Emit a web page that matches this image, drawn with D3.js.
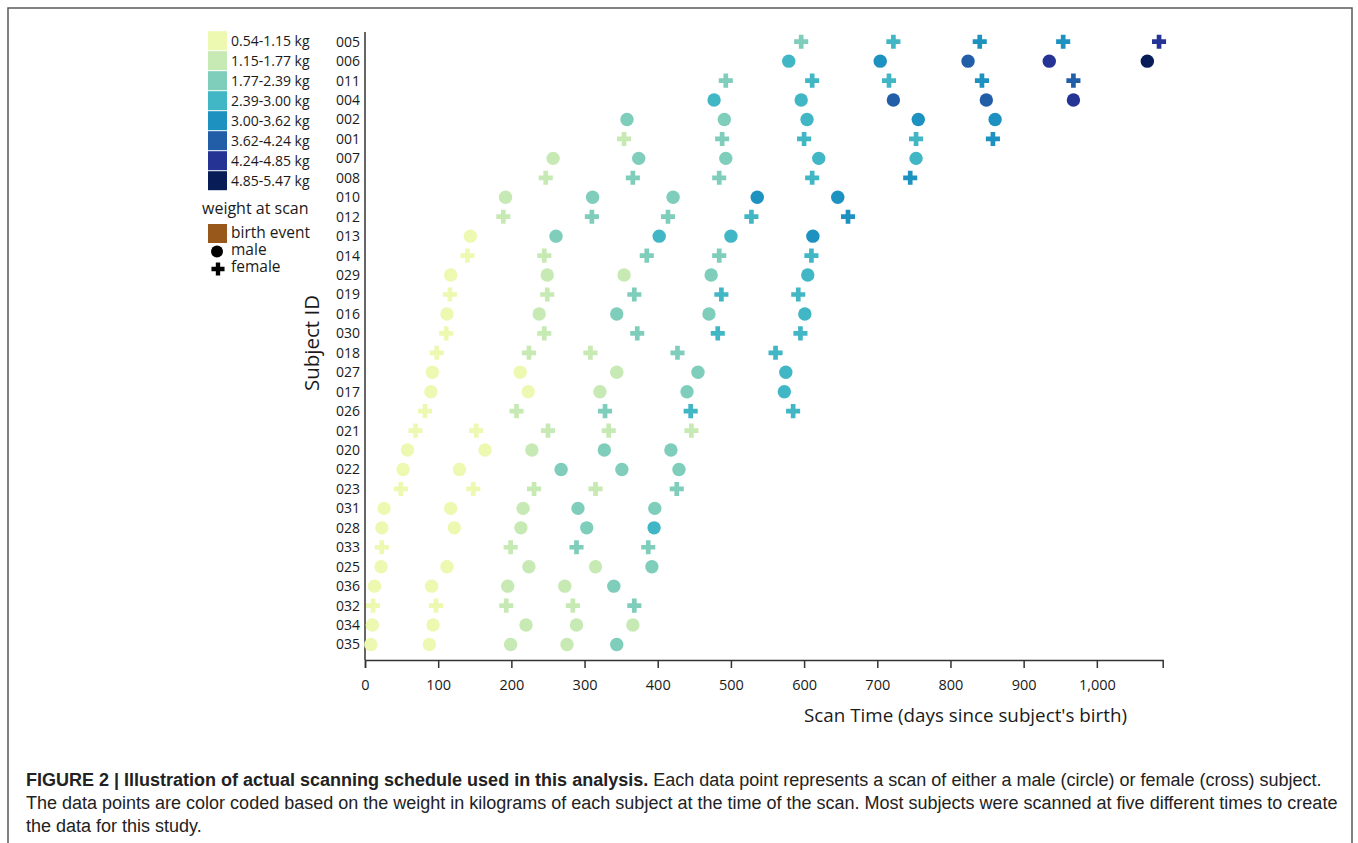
<!DOCTYPE html>
<html>
<head>
<meta charset="utf-8">
<script src="https://cdn.jsdelivr.net/npm/d3@7"></script>
<style>
  body { margin: 0; background: #fff; }
  svg { display: block; }
  .chart text { font-family: "Open Sans", "DejaVu Sans", sans-serif; fill: #1a1a1a; }
  .caption text { font-family: "Liberation Sans", Arial, sans-serif; fill: #222; }
</style>
</head>
<body>
<svg id="fig" width="1358" height="843"></svg>
<script>
// Scan schedule: one row per subject, days since birth at each scan,
// coloured by weight class at scan time.

const subjects = ["005", "006", "011", "004", "002", "001", "007", "008", "010", "012",
  "013", "014", "029", "019", "016", "030", "018", "027", "017", "026",
  "021", "020", "022", "023", "031", "028", "033", "025", "036", "032", "034", "035"];

const subjectSex = ["F", "M", "F", "M", "M", "F", "M", "F", "M", "F",
  "M", "F", "M", "F", "M", "F", "F", "M", "M", "F",
  "F", "M", "M", "F", "M", "M", "F", "M", "M", "F", "M", "M"];

const scanDays = [
  [596, 722, 840, 954, 1085],
  [579, 704, 824, 935, 1069],
  [493, 611, 716, 843, 968],
  [477, 596, 722, 849, 968],
  [358, 491, 604, 756, 861],
  [354, 488, 600, 753, 858],
  [257, 374, 493, 620, 753],
  [247, 366, 484, 611, 745],
  [192, 311, 421, 536, 646],
  [189, 310, 414, 528, 660],
  [144, 261, 402, 500, 612],
  [140, 245, 385, 484, 610],
  [117, 249, 354, 473, 605],
  [116, 249, 368, 487, 592],
  [112, 238, 344, 470, 601],
  [111, 245, 372, 482, 595],
  [98, 224, 308, 427, 561],
  [92, 212, 344, 455, 575],
  [90, 223, 321, 440, 573],
  [82, 207, 328, 445, 585],
  [69, 152, 250, 333, 446],
  [58, 164, 228, 327, 418],
  [52, 129, 268, 351, 429],
  [49, 148, 231, 315, 426],
  [26, 117, 216, 291, 396],
  [23, 122, 213, 303, 395],
  [23, 199, 289, 387],
  [22, 112, 224, 315, 392],
  [13, 91, 195, 273, 340],
  [11, 97, 193, 284, 368],
  [10, 93, 220, 289, 366],
  [8, 88, 199, 276, 344]
];

// index into weightLabels
const weightClass = [
  [2, 3, 4, 4, 6],
  [3, 4, 5, 6, 7],
  [2, 3, 3, 4, 5],
  [3, 3, 5, 5, 6],
  [2, 2, 3, 4, 4],
  [1, 2, 3, 3, 4],
  [1, 2, 2, 3, 3],
  [1, 2, 2, 3, 4],
  [1, 2, 2, 4, 4],
  [1, 2, 2, 3, 4],
  [0, 2, 3, 3, 4],
  [0, 1, 2, 2, 3],
  [0, 1, 1, 2, 3],
  [0, 1, 2, 3, 3],
  [0, 1, 2, 2, 3],
  [0, 1, 2, 3, 3],
  [0, 1, 1, 2, 3],
  [0, 0, 1, 2, 3],
  [0, 0, 1, 2, 3],
  [0, 1, 2, 3, 3],
  [0, 0, 1, 1, 1],
  [0, 0, 1, 2, 2],
  [0, 0, 2, 2, 2],
  [0, 0, 1, 1, 2],
  [0, 0, 1, 2, 2],
  [0, 0, 1, 2, 3],
  [0, 1, 2, 2],
  [0, 0, 1, 1, 2],
  [0, 0, 1, 1, 2],
  [0, 0, 1, 1, 2],
  [0, 0, 1, 1, 1],
  [0, 0, 1, 1, 2]
];

const weightLabels = ["0.54-1.15 kg", "1.15-1.77 kg", "1.77-2.39 kg", "2.39-3.00 kg",
  "3.00-3.62 kg", "3.62-4.24 kg", "4.24-4.85 kg", "4.85-5.47 kg"];

const xTicks = [0, 100, 200, 300, 400, 500, 600, 700, 800, 900, 1000];

const captionBold = "FIGURE 2 | Illustration of actual scanning schedule used in this analysis.";
const captionLines = [
  " Each data point represents a scan of either a male (circle) or female (cross) subject.",
  "The data points are color coded based on the weight in kilograms of each subject at the time of the scan. Most subjects were scanned at five different times to create",
  "the data for this study."
];

const svg = d3.select("#fig");

// frame round the figure
svg.append("path")
  .attr("d", "M8,843V8H1352V843")
  .attr("fill", "none")
  .attr("stroke", "#5a5a5a")
  .attr("stroke-width", 1.5);

const chart = svg.append("g").attr("class", "chart");

const x = d3.scaleLinear().domain([0, 1090]).range([365, 1162.7]);
const y = d3.scalePoint().domain(subjects).range([41.7, 644.5]);
const color = d3.scaleOrdinal().domain(d3.range(8)).range(d3.schemeYlGnBu[9].slice(1));
const axisY = 660;
const axisTop = 32;

const points = subjects.flatMap((id, i) => scanDays[i].map((day, j) => ({
  id, sex: subjectSex[i], day, cls: weightClass[i][j],
})));

// x axis
const gx = chart.append("g")
  .attr("transform", `translate(0,${axisY})`)
  .call(d3.axisBottom(x).tickValues(xTicks).tickFormat(d3.format(",")).tickSize(8).tickPadding(12));
gx.selectAll("text").style("font-size", "14.5px");

// y axis
const gy = chart.append("g")
  .attr("transform", "translate(365,0)")
  .call(d3.axisLeft(y).tickSize(0).tickPadding(5));
gy.select(".domain").attr("d", `M0,${axisTop}V${axisY}`);
gy.selectAll("text").style("font-size", "14px");

chart.selectAll(".domain, .tick line").attr("stroke", "#333").attr("stroke-width", 1.5);

chart.append("text")
  .attr("x", 965.5).attr("y", 722)
  .attr("text-anchor", "middle")
  .style("font-size", "18.8px")
  .text("Scan Time (days since subject's birth)");

chart.append("text")
  .attr("transform", "translate(319,343) rotate(-90)")
  .attr("text-anchor", "middle")
  .style("font-size", "20.5px")
  .text("Subject ID");

// marks
const cross = d3.symbol().type(d3.symbolCross).size(110);
const marks = chart.append("g");
marks.selectAll("circle")
  .data(points.filter((p) => p.sex === "M"))
  .join("circle")
  .attr("cx", (d) => x(d.day))
  .attr("cy", (d) => y(d.id))
  .attr("r", 6.7)
  .attr("fill", (d) => color(d.cls));
marks.selectAll("path")
  .data(points.filter((p) => p.sex === "F"))
  .join("path")
  .attr("transform", (d) => `translate(${x(d.day)},${y(d.id)})`)
  .attr("d", cross)
  .attr("fill", (d) => color(d.cls));

// legend
const legend = chart.append("g");
weightLabels.forEach((label, i) => {
  const cy = 40.7 + i * 20;
  legend.append("rect")
    .attr("x", 208).attr("y", cy - 9.5).attr("width", 19).attr("height", 19)
    .attr("fill", color(i));
  legend.append("text")
    .attr("x", 231).attr("y", cy).attr("dy", "0.35em")
    .style("font-size", "14px")
    .text(label);
});
legend.append("text")
  .attr("x", 202).attr("y", 208).attr("dy", "0.35em")
  .style("font-size", "16px")
  .text("weight at scan");
legend.append("rect")
  .attr("x", 208).attr("y", 224).attr("width", 19).attr("height", 19)
  .attr("fill", "#98581c");
legend.append("text")
  .attr("x", 231).attr("y", 233).attr("dy", "0.35em")
  .style("font-size", "15.5px")
  .text("birth event");
legend.append("circle")
  .attr("cx", 217).attr("cy", 251.5).attr("r", 6)
  .attr("fill", "#000");
legend.append("text")
  .attr("x", 231).attr("y", 250).attr("dy", "0.35em")
  .style("font-size", "15.5px")
  .text("male");
legend.append("path")
  .attr("transform", "translate(218,269)")
  .attr("d", d3.symbol().type(d3.symbolCross).size(95))
  .attr("fill", "#000");
legend.append("text")
  .attr("x", 231).attr("y", 267).attr("dy", "0.35em")
  .style("font-size", "15.5px")
  .text("female");

// caption
const caption = svg.append("g").attr("class", "caption");
const first = caption.append("text").attr("x", 26).attr("y", 786).style("font-size", "15px");
first.append("tspan").style("font-weight", "bold").text(captionBold);
first.append("tspan").text(captionLines[0]);
const second = caption.append("text").attr("x", 26).attr("y", 809).style("font-size", "15px").text(captionLines[1]);
caption.append("text").attr("x", 26).attr("y", 832).style("font-size", "15px").text(captionLines[2]);

// fit the caption so neither long line runs past the printed right edge
const widest = Math.max(first.node().getComputedTextLength(), second.node().getComputedTextLength());
const fs = 15 * 1312 / widest;
caption.selectAll("text").style("font-size", `${fs}px`);
</script>
</body>
</html>
